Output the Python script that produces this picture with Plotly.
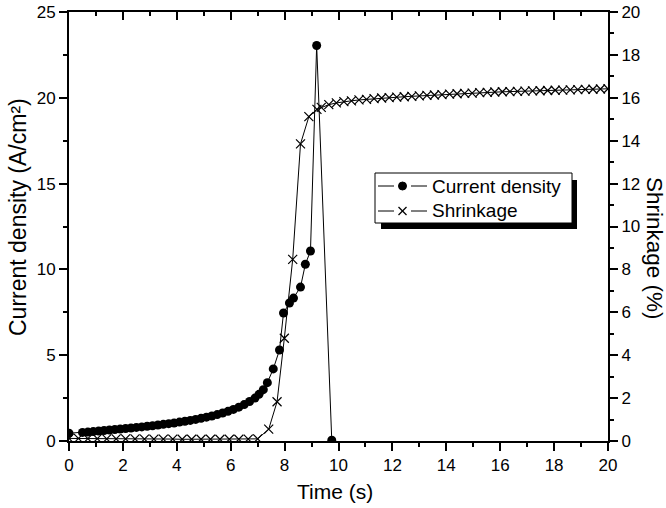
import plotly.graph_objects as go

# ---- data ----
cd_time = [0.0, 0.5, 0.7, 0.9, 1.1, 1.3, 1.5, 1.7, 1.9, 2.1, 2.3, 2.5, 2.7, 2.9, 3.1, 3.3,
           3.5, 3.7, 3.9, 4.1, 4.3, 4.5, 4.7, 4.9, 5.1, 5.3, 5.5, 5.7, 5.9, 6.1, 6.3, 6.5,
           6.7, 6.9, 7.05, 7.21, 7.36, 7.58, 7.81, 7.96, 8.18, 8.33, 8.59, 8.77, 8.96, 9.19, 9.75]
cd_value = [0.45, 0.50, 0.52, 0.55, 0.58, 0.61, 0.64, 0.67, 0.70, 0.73, 0.76, 0.79, 0.82, 0.86,
            0.89, 0.93, 0.97, 1.01, 1.05, 1.10, 1.15, 1.20, 1.26, 1.32, 1.39, 1.46, 1.54, 1.63,
            1.73, 1.84, 1.97, 2.12, 2.30, 2.50, 2.72, 2.99, 3.40, 4.20, 5.30, 7.46, 8.04, 8.33,
            8.97, 10.30, 11.07, 23.05, 0.05]

sh_time = [0.0, 0.35, 0.7, 1.05, 1.4, 1.75, 2.1, 2.45, 2.8, 3.15, 3.5, 3.85, 4.2, 4.55, 4.9,
           5.25, 5.6, 5.95, 6.3, 6.65, 7.0, 7.41, 7.72, 7.99, 8.30, 8.59, 8.90, 9.20,
           9.36, 9.64, 9.92, 10.20, 10.48, 10.76, 11.04, 11.32, 11.60, 11.88, 12.16, 12.44,
           12.72, 13.00, 13.28, 13.56, 13.84, 14.12, 14.40, 14.68, 14.96, 15.24, 15.52, 15.80,
           16.08, 16.36, 16.64, 16.92, 17.20, 17.48, 17.76, 18.04, 18.32, 18.60, 18.88, 19.16,
           19.44, 19.72, 20.00]
sh_value = [0.12, 0.12, 0.11, 0.11, 0.10, 0.10, 0.10, 0.10, 0.09, 0.09, 0.09, 0.09, 0.08, 0.08,
            0.08, 0.08, 0.08, 0.08, 0.08, 0.09, 0.10, 0.55, 1.83, 4.79, 8.47, 13.85, 15.12, 15.46,
            15.55, 15.68, 15.76, 15.82, 15.86, 15.90, 15.93, 15.96, 15.99, 16.01, 16.03, 16.05,
            16.07, 16.09, 16.11, 16.13, 16.15, 16.17, 16.19, 16.21, 16.22, 16.24, 16.25, 16.27,
            16.28, 16.29, 16.30, 16.31, 16.32, 16.33, 16.34, 16.35, 16.36, 16.37, 16.38, 16.39,
            16.40, 16.41, 16.42]

series_names = ["Current density", "Shrinkage"]
x_ticks = list(range(0, 21, 2))
left_ticks = [0, 5, 10, 15, 20, 25]
right_ticks = list(range(0, 21, 2))

FONT = "Liberation Sans, Arial, sans-serif"

# plot area geometry (pixels) used to place the hand-drawn legend box
W, H = 666, 508
ML, MR, MT, MB = 69, 58, 12, 67
PW, PH = W - ML - MR, H - MT - MB


def px(xp):
    return (xp - ML) / PW


def py(yp):
    return (H - MB - yp) / PH


fig = go.Figure()
fig.add_trace(go.Scatter(
    x=cd_time, y=cd_value, name=series_names[0], mode="lines+markers", showlegend=False,
    line=dict(color="black", width=1),
    marker=dict(symbol="circle", size=9, color="black"),
))
fig.add_trace(go.Scatter(
    x=sh_time, y=sh_value, name=series_names[1], mode="lines+markers", yaxis="y2",
    showlegend=False,
    line=dict(color="black", width=1),
    marker=dict(symbol="x-thin-open", size=9, color="black", line=dict(color="black", width=1.2)),
))
# dummy trace to carry the top (mirrored) axis
fig.add_trace(go.Scatter(x=[None], y=[None], xaxis="x2", showlegend=False, hoverinfo="skip"))

axis_common = dict(showline=True, linecolor="black", linewidth=2, showgrid=False, zeroline=False,
                   tickfont=dict(family=FONT, size=17, color="black"), tickcolor="black",
                   tickwidth=1.5, ticklen=8, automargin=False)

# legend box drawn as shapes + text annotations
box_l, box_t, box_r, box_b = 375, 173, 572, 223
row_y = [186, 211]
shapes = [
    dict(type="rect", xref="paper", yref="paper", x0=px(box_l + 6), x1=px(box_r + 5),
         y0=py(box_b + 6), y1=py(box_t + 7), fillcolor="black", line=dict(width=0), layer="above"),
    dict(type="rect", xref="paper", yref="paper", x0=px(box_l), x1=px(box_r),
         y0=py(box_b), y1=py(box_t), fillcolor="white", line=dict(color="black", width=1),
         layer="above"),
]
for ry in row_y:
    for (a, b) in [(378, 394), (411, 427)]:
        shapes.append(dict(type="line", xref="paper", yref="paper", x0=px(a), x1=px(b),
                           y0=py(ry), y1=py(ry), line=dict(color="black", width=1), layer="above"))
# circle glyph
shapes.append(dict(type="circle", xref="paper", yref="paper", x0=px(398.5), x1=px(406.5),
                   y0=py(row_y[0] + 4), y1=py(row_y[0] - 4), fillcolor="black",
                   line=dict(color="black", width=1), layer="above"))
# x glyph
for (y0, y1) in [(row_y[1] - 4, row_y[1] + 4), (row_y[1] + 4, row_y[1] - 4)]:
    shapes.append(dict(type="line", xref="paper", yref="paper", x0=px(398.5), x1=px(406.5),
                       y0=py(y0), y1=py(y1), line=dict(color="black", width=1.2), layer="above"))

annotations = [
    dict(text="Current density (A/cm²)", xref="paper", yref="paper", x=0, y=py(217),
         xshift=-51, xanchor="center", yanchor="middle", textangle=-90, showarrow=False,
         font=dict(family=FONT, size=23)),
    dict(text="Shrinkage (%)", xref="paper", yref="paper", x=1, y=py(248),
         xshift=47, xanchor="center", yanchor="middle", textangle=90, showarrow=False,
         font=dict(family=FONT, size=22.5)),
    dict(text="Time (s)", xref="paper", yref="paper", x=px(335), y=py(491),
         xanchor="center", yanchor="middle", showarrow=False, font=dict(family=FONT, size=21)),
]
for name, ry in zip(series_names, row_y):
    annotations.append(dict(text=name, xref="paper", yref="paper", x=px(430), y=py(ry),
                            xanchor="left", yanchor="middle", showarrow=False,
                            font=dict(family=FONT, size=19)))

fig.update_layout(
    width=W, height=H,
    margin=dict(l=ML, r=MR, t=MT, b=MB),
    plot_bgcolor="white", paper_bgcolor="white",
    font=dict(family=FONT, color="black"),
    showlegend=False,
    xaxis=dict(range=[0, 20], tickvals=x_ticks, ticks="outside",
               minor=dict(dtick=1, ticks="outside", ticklen=4, tickcolor="black", tickwidth=1.5),
               **axis_common),
    xaxis2=dict(range=[0, 20], overlaying="x", side="top", anchor="y", tickvals=x_ticks,
                ticks="inside", showticklabels=False,
                minor=dict(dtick=1, ticks="inside", ticklen=4, tickcolor="black", tickwidth=1.5),
                **axis_common),
    yaxis=dict(range=[0, 25], tickvals=left_ticks, ticks="outside",
               minor=dict(dtick=2.5, ticks="outside", ticklen=4, tickcolor="black", tickwidth=1.5),
               **axis_common),
    yaxis2=dict(range=[0, 20], overlaying="y", side="right", anchor="x", tickvals=right_ticks,
                ticks="outside",
                minor=dict(dtick=1, ticks="outside", ticklen=4, tickcolor="black", tickwidth=1.5),
                **axis_common),
    shapes=shapes,
    annotations=annotations,
)

fig.write_html("out.html", config={"displayModeBar": False},
               post_script="document.body.style.margin='0';")
